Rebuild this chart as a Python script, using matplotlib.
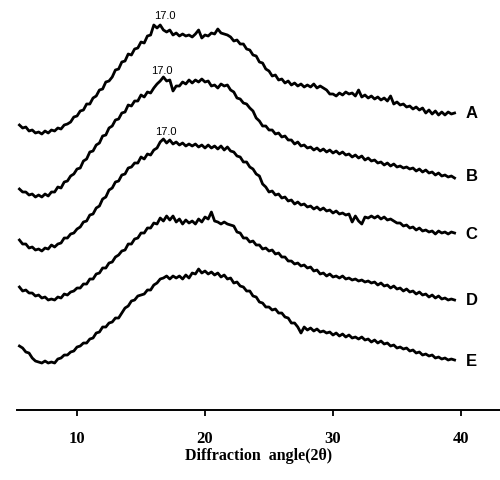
import numpy as np
import matplotlib
matplotlib.use('Agg')
import matplotlib.pyplot as plt

pattern_a = [15, 12,
             13, 9, 10, 7, 8, 6, 9, 7, 10, 9, 12, 11, 15, 16, 18, 23,
             24, 29, 30, 36, 36, 42, 44, 50, 51, 58, 59, 63, 70, 71, 78, 79,
             86, 85, 91, 92, 98, 97, 104, 105, 115, 112, 115, 110, 108, 110, 105, 107,
             104, 106, 104, 105, 103, 106, 110, 102, 105, 104, 107, 106, 111, 107, 106, 105,
             103, 99, 100, 96, 96, 91, 90, 85, 84, 78, 77, 71, 69, 64, 65, 60,
             61, 57, 59, 55, 57, 54, 56, 53, 55, 53, 56, 52, 54, 52, 50, 46,
             46, 44, 47, 45, 48, 46, 47, 44, 50, 43, 45, 42, 44, 41, 43, 40,
             42, 39, 44, 36, 38, 35, 36, 33, 34, 31, 33, 30, 32, 27, 30, 26,
             29, 25, 28, 25, 28, 26, 27]
pattern_b = [16, 13,
             13, 10, 11, 8, 10, 8, 11, 9, 13, 13, 18, 17, 23, 24, 29, 31,
             36, 37, 44, 46, 53, 54, 60, 62, 69, 70, 77, 79, 85, 86, 92, 93,
             100, 99, 104, 104, 110, 108, 113, 112, 117, 121, 124, 128, 124, 125, 114, 119,
             119, 123, 121, 125, 122, 125, 123, 126, 123, 124, 119, 120, 117, 121, 119, 120,
             115, 113, 107, 106, 102, 101, 97, 94, 87, 84, 79, 79, 75, 75, 71, 72,
             68, 69, 65, 65, 61, 63, 59, 60, 57, 58, 55, 57, 54, 56, 53, 55,
             52, 54, 51, 53, 50, 51, 48, 50, 47, 49, 45, 47, 44, 45, 42, 43,
             40, 42, 39, 41, 38, 39, 37, 38, 36, 37, 34, 36, 33, 35, 32, 33,
             30, 32, 29, 30, 28, 29, 27]
pattern_c = [20, 16,
             16, 12, 13, 10, 11, 9, 12, 11, 15, 13, 16, 17, 22, 22, 26, 27,
             31, 33, 38, 39, 45, 46, 52, 54, 61, 63, 70, 72, 78, 79, 85, 86,
             92, 93, 97, 97, 103, 101, 106, 105, 110, 112, 118, 121, 117, 120, 116, 118,
             115, 117, 114, 116, 114, 116, 113, 115, 112, 115, 112, 114, 111, 114, 110, 113,
             109, 108, 104, 103, 98, 98, 93, 91, 86, 84, 76, 73, 68, 69, 65, 66,
             62, 63, 59, 60, 56, 58, 55, 56, 53, 54, 51, 53, 50, 52, 49, 50,
             47, 49, 46, 47, 45, 46, 38, 44, 39, 36, 43, 42, 44, 42, 44, 41,
             43, 40, 41, 39, 37, 37, 34, 35, 32, 33, 30, 32, 29, 30, 28, 29,
             26, 29, 27, 28, 26, 28, 27]
pattern_d = [23, 19,
             20, 17, 17, 14, 15, 12, 13, 10, 11, 10, 13, 12, 16, 15, 18, 19,
             22, 22, 26, 26, 31, 31, 36, 37, 42, 42, 47, 48, 53, 55, 59, 60,
             66, 66, 71, 72, 77, 77, 82, 82, 87, 86, 92, 89, 94, 90, 94, 88,
             91, 86, 90, 87, 89, 86, 91, 88, 93, 91, 98, 89, 88, 86, 88, 86,
             85, 84, 78, 77, 72, 72, 68, 69, 65, 65, 61, 62, 59, 60, 56, 57,
             53, 53, 49, 49, 46, 47, 44, 45, 42, 43, 39, 40, 36, 37, 34, 36,
             33, 34, 32, 34, 31, 32, 30, 31, 29, 30, 28, 29, 27, 28, 25, 27,
             24, 25, 22, 24, 21, 22, 19, 21, 18, 19, 16, 18, 15, 16, 13, 15,
             12, 14, 11, 12, 10, 11, 10]
pattern_e = [24, 22,
             18, 17, 12, 9, 8, 7, 9, 7, 8, 7, 11, 12, 15, 15, 18, 19,
             23, 24, 27, 27, 31, 32, 37, 38, 43, 43, 47, 48, 52, 52, 57, 62,
             64, 69, 70, 74, 75, 76, 80, 80, 85, 87, 91, 92, 94, 91, 94, 92,
             94, 91, 95, 92, 97, 96, 101, 97, 99, 96, 98, 95, 97, 93, 95, 91,
             92, 87, 88, 84, 83, 79, 79, 74, 73, 68, 67, 63, 63, 60, 61, 57,
             57, 53, 52, 47, 47, 43, 37, 43, 40, 42, 39, 41, 38, 39, 37, 38,
             35, 37, 34, 36, 33, 35, 32, 33, 31, 33, 30, 31, 28, 30, 27, 29,
             26, 27, 24, 25, 22, 23, 21, 22, 19, 20, 17, 18, 15, 16, 14, 15,
             12, 13, 11, 12, 10, 11, 10]

samples = ['A', 'B', 'C', 'D', 'E']
patterns = [pattern_a, pattern_b, pattern_c, pattern_d, pattern_e]
peak_label = '17.0'
peak_angles = [16.9, 16.65, 16.95]   # where "17.0" is written over A, B, C

offsets = [270, 205, 150, 100, 40]
peak_label_y = [394, 339, 278]
sample_label_y = [297, 234, 176, 110, 49]

fig = plt.figure(figsize=(5, 4.8), dpi=100)
ax = fig.add_axes([0.034, 0.1458, 0.966, 0.8542])

for name, pat, off, ly in zip(samples, patterns, offsets, sample_label_y):
    angle = 5.5 + 0.25 * np.arange(len(pat))
    ax.plot(angle, np.array(pat) + off, color='black', lw=2.0)
    ax.text(40.35, ly, name, ha='left', va='center', fontsize=12,
            fontweight='bold', family='Liberation Sans')

for xa, ya in zip(peak_angles, peak_label_y):
    ax.text(xa, ya, peak_label, ha='center', va='center', fontsize=8,
            family='Liberation Sans')

ax.set_xlim(5.31, 43.05)
ax.set_ylim(0, 410)
for s in ['top', 'right', 'left']:
    ax.spines[s].set_visible(False)
ax.spines['bottom'].set_linewidth(1.4)
ax.set_yticks([])
ax.set_xticks([10, 20, 30, 40])
ax.tick_params(axis='x', direction='out', length=4, width=1.3, pad=11)
for lab in ax.get_xticklabels():
    lab.set_family('Liberation Serif')
    lab.set_fontweight('bold')
    lab.set_fontsize(12)
ax.set_xlabel('Diffraction  angle(2θ)', family='Liberation Serif',
              fontweight='bold', fontsize=11.5, labelpad=1)

fig.savefig('out.png', dpi=100)
